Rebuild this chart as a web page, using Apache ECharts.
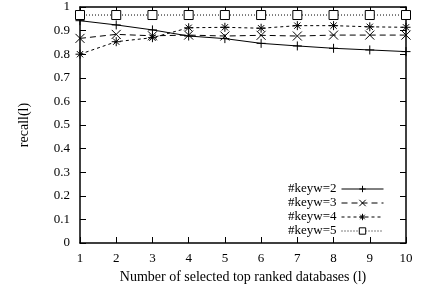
<!DOCTYPE html>
<html>
<head>
<meta charset="utf-8">
<script src="https://cdn.jsdelivr.net/npm/echarts@6/dist/echarts.min.js"></script>
<style>
html, body { margin: 0; padding: 0; background: #fff; }
#chart { width: 422px; height: 293px; }
</style>
</head>
<body>
<div id="chart"></div>
<script>
var xs = [1, 2, 3, 4, 5, 6, 7, 8, 9, 10];
var keyw2 = [0.942, 0.924, 0.903, 0.877, 0.866, 0.846, 0.835, 0.825, 0.818, 0.811];
var keyw3 = [0.867, 0.884, 0.878, 0.881, 0.877, 0.880, 0.877, 0.881, 0.881, 0.881];
var keyw4 = [0.800, 0.853, 0.870, 0.912, 0.914, 0.910, 0.921, 0.921, 0.916, 0.914];
var keyw5 = [0.966, 0.966, 0.966, 0.966, 0.966, 0.966, 0.966, 0.966, 0.966, 0.966];
var names = ["#keyw=2", "#keyw=3", "#keyw=4", "#keyw=5"];

var font = "Liberation Serif";
var dom = document.getElementById("chart");
var myChart = echarts.init(dom);

function pairs(ys) {
    return xs.map(function (x, i) { return [x, ys[i]]; });
}

var plus = "path://M0,5L10,5M5,0L5,10";
var cross = "path://M0,0L10,10M10,0L0,10";
var star = "path://M5,0L5,10M0,5L10,5M1.5,1.5L8.5,8.5M8.5,1.5L1.5,8.5";

function mkSeries(name, ys, symbol, dash, size) {
    return {
        name: name,
        type: "line",
        data: pairs(ys),
        symbol: symbol,
        symbolSize: size,
        animation: false,
        lineStyle: { color: "#000", width: 1, type: dash },
        itemStyle: { color: symbol === "rect" ? "#fff" : "none", borderColor: "#000", borderWidth: 1 }
    };
}

function frame() {
    return {
        axisLine: { show: true, onZero: false, lineStyle: { color: "#000", width: 1.5 } },
        axisTick: { show: true, inside: true, length: 6, lineStyle: { color: "#000", width: 1 } },
        splitLine: { show: false }
    };
}

var option = {
    backgroundColor: "#fff",
    textStyle: { fontFamily: font },
    grid: { left: 80, right: 16, top: 7, bottom: 50 },
    legend: {
        orient: "vertical",
        right: 33,
        top: 177,
        align: "right",
        itemWidth: 42,
        itemHeight: 8,
        itemGap: 0,
        data: names,
        lineStyle: { width: 1 },
        itemStyle: { borderWidth: 1 },
        textStyle: { fontFamily: font, fontSize: 13, lineHeight: 14, color: "#000" }
    },
    xAxis: [
        Object.assign({
            type: "value", min: 1, max: 10, interval: 1, position: "bottom",
            name: "Number of selected top ranked databases (l)",
            nameLocation: "middle", nameGap: 27,
            nameTextStyle: { fontFamily: font, fontSize: 14, color: "#000" },
            axisLabel: { fontFamily: font, fontSize: 13, color: "#000", margin: 9 }
        }, frame()),
        Object.assign({
            type: "value", min: 1, max: 10, interval: 1, position: "top",
            axisLabel: { show: false }
        }, frame())
    ],
    yAxis: [
        Object.assign({
            type: "value", min: 0, max: 1, interval: 0.1, position: "left",
            name: "recall(l)", nameLocation: "middle", nameGap: 49,
            nameTextStyle: { fontFamily: font, fontSize: 14, color: "#000" },
            axisLabel: {
                fontFamily: font, fontSize: 13, color: "#000", margin: 10,
                formatter: function (v) { return String(Math.round(v * 10) / 10); }
            }
        }, frame()),
        Object.assign({
            type: "value", min: 0, max: 1, interval: 0.1, position: "right",
            axisLabel: { show: false }
        }, frame())
    ],
    series: [
        mkSeries(names[0], keyw2, plus, "solid", 9),
        mkSeries(names[1], keyw3, cross, [6, 4], 9),
        mkSeries(names[2], keyw4, star, [3, 3], 9),
        mkSeries(names[3], keyw5, "rect", [1, 2], 9)
    ]
};
myChart.setOption(option);
</script>
</body>
</html>
